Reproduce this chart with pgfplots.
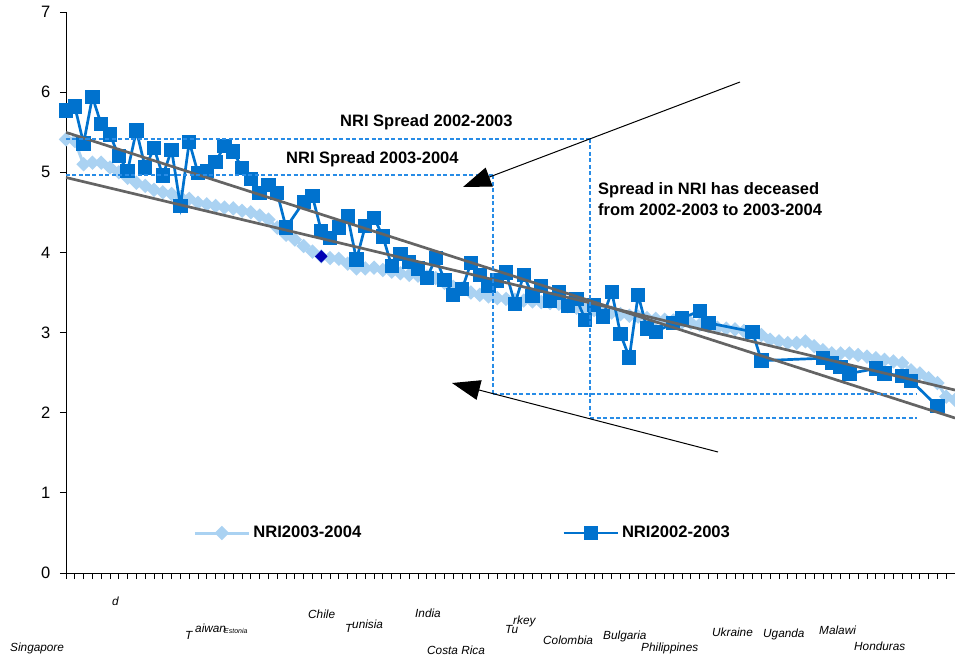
\documentclass[border=0pt]{standalone}
\usepackage{pgfplots}
\pgfplotsset{compat=1.18}
\usepackage{fontspec}
\setmainfont{Liberation Sans}
\usetikzlibrary{arrows.meta}
\definecolor{lightS}{RGB}{170,210,242}
\definecolor{darkS}{RGB}{0,114,206}
\definecolor{navyP}{RGB}{0,0,180}
\definecolor{trend}{RGB}{100,100,100}
\definecolor{dashc}{RGB}{40,140,230}

\pgfplotstableread{
i v
0 5.41
1 5.39
2 5.10
3 5.12
4 5.12
5 5.06
6 5.00
7 4.93
8 4.87
9 4.83
10 4.78
11 4.75
12 4.73
13 4.69
14 4.67
15 4.62
16 4.60
17 4.58
18 4.56
19 4.55
20 4.52
21 4.50
22 4.46
23 4.41
24 4.31
25 4.22
26 4.16
27 4.08
28 4.01
29 3.95
30 3.93
31 3.92
32 3.86
33 3.80
34 3.80
35 3.81
36 3.78
37 3.76
38 3.74
39 3.72
40 3.71
41 3.70
42 3.68
43 3.62
44 3.57
45 3.55
46 3.50
47 3.47
48 3.45
49 3.43
50 3.42
51 3.41
52 3.40
53 3.39
54 3.38
55 3.37
56 3.36
57 3.33
58 3.31
59 3.29
60 3.28
61 3.27
62 3.25
63 3.23
64 3.21
65 3.20
66 3.18
67 3.17
68 3.16
69 3.15
70 3.13
71 3.12
72 3.10
73 3.08
74 3.06
75 3.05
76 3.04
77 3.02
78 3.00
79 2.97
80 2.91
81 2.89
82 2.87
83 2.87
84 2.89
85 2.83
86 2.78
87 2.74
88 2.74
89 2.74
90 2.72
91 2.70
92 2.68
93 2.66
94 2.64
95 2.62
96 2.53
97 2.49
98 2.43
99 2.37
100 2.20
101 2.16
}\lighttab

\pgfplotstableread{
i v
0 5.77
1 5.82
2 5.36
3 5.94
4 5.60
5 5.47
6 5.20
7 5.02
8 5.52
9 5.06
10 5.30
11 4.96
12 5.28
13 4.58
14 5.38
15 4.99
16 5.02
17 5.13
18 5.33
19 5.26
20 5.05
21 4.92
22 4.74
23 4.84
24 4.74
25 4.31
27 4.63
28 4.70
29 4.27
30 4.18
31 4.31
32 4.45
33 3.91
34 4.33
35 4.43
36 4.20
37 3.83
38 3.98
39 3.88
40 3.80
41 3.68
42 3.93
43 3.66
44 3.47
45 3.54
46 3.87
47 3.72
48 3.58
49 3.65
50 3.75
51 3.36
52 3.72
53 3.46
54 3.58
55 3.40
56 3.50
57 3.33
58 3.42
59 3.16
60 3.34
61 3.20
62 3.51
63 2.98
64 2.69
65 3.47
66 3.05
67 3.01
69 3.12
70 3.18
72 3.27
73 3.12
78 3.01
79 2.65
86 2.68
87 2.62
88 2.57
89 2.49
92 2.55
93 2.49
95 2.46
96 2.40
99 2.08
}\darktab

\begin{document}
\begin{tikzpicture}
\fontsize{16.5}{19}\selectfont
\path[use as bounding box] (-66pt,-84pt) rectangle (889pt,573pt);
\begin{axis}[
  at={(0pt,0pt)}, anchor=south west,
  scale only axis, width=889pt, height=561pt,
  xmin=0, xmax=101, ymin=0, ymax=7,
  axis x line=bottom, axis y line=left,
  axis line style={-, black, line width=0.9pt},
  xtick={0,1,...,101}, xticklabels={},
  ytick={0,1,...,7},
  tick align=outside, major tick length=6pt,
  tick style={black, line width=0.9pt},
  /pgf/number format/assume math mode=true,
  every tick label/.append style={font=\fontsize{16.5}{19}\selectfont},
  yticklabel style={xshift=-4pt},
  clip mode=individual,
  legend columns=2,
  legend cell align=left,
  legend image code/.code={\draw[mark repeat=2,mark phase=2,#1] plot coordinates {(0pt,0pt) (27pt,0pt) (54pt,0pt)};},
  legend style={at={(axis description cs:0.143,0.0713)}, anchor=west,
    draw=none, fill=none, inner sep=0pt,
    font=\bfseries\fontsize{16.6}{19}\selectfont,
    nodes={inner sep=3pt},
    /tikz/every even column/.append style={column sep=198pt}},
]
\addplot[color=lightS, line width=3pt, mark=square*, mark size=3.6pt,
  mark options={rotate=45, solid, fill=lightS, draw=lightS}]
  table[x=i, y=v] {\lighttab};
\addlegendentry{NRI2003-2004}
\addplot[forget plot, only marks, mark=square*, mark size=4.2pt,
  mark options={rotate=45, fill=navyP, draw=navyP}]
  coordinates {(29,3.95)};
\addplot[color=darkS, line width=2.7pt, mark=square*, mark size=5.8pt,
  mark options={solid, fill=darkS, draw=darkS}]
  table[x=i, y=v] {\darktab};
\addlegendentry{NRI2002-2003}
\addplot[forget plot, trend, line width=2.7pt] coordinates {(0,5.498) (101,1.934)};
\addplot[forget plot, trend, line width=2.7pt] coordinates {(0,4.935) (101,2.283)};
\end{axis}

\begin{scope}[shift={(-66pt,573pt)}, x=1pt, y=-1pt]
  \begin{scope}[dashc, line width=1.3pt, dash pattern=on 4pt off 2.5pt]
    \draw (66,139) -- (590,139);
    \draw (66,175) -- (493,175);
    \draw (493,175) -- (493,394);
    \draw (590,139) -- (590,418);
    \draw (493,394) -- (916,394);
    \draw (590,418) -- (917,418);
  \end{scope}
  \draw[black, line width=1pt, -{Triangle[length=28pt,width=20pt]}] (740,82) -- (463,187);
  \draw[black, line width=1pt, -{Triangle[length=28pt,width=20pt]}] (718,452) -- (452,383);
  \begin{scope}[every node/.style={inner sep=0pt, anchor=west, font=\bfseries\fontsize{16.5}{19}\selectfont}]
    \node at (340,122) {NRI Spread 2002-2003};
    \node at (286,159) {NRI Spread 2003-2004};
    \node at (598,190) {Spread in NRI has deceased};
    \node at (598,210) {from 2002-2003 to 2003-2004};
  \end{scope}
  \begin{scope}[every node/.style={inner sep=0pt, anchor=west, font=\itshape\fontsize{11.8}{14}\selectfont}]
    \node at (10,648) {Singapore};
    \node at (112,601) {d};
    \node at (185,635) {T};
    \node at (195,628) {aiwan};
    \node[font=\itshape\fontsize{7}{8}\selectfont] at (224,631) {Estonia};
    \node at (308,614) {Chile};
    \node at (345,628) {T};
    \node at (352,624) {unisia};
    \node at (415,613) {India};
    \node at (427,650) {Costa Rica};
    \node at (505,629) {Tu};
    \node at (513,621) {rkey};
    \node at (543,640) {Colombia};
    \node at (603,636) {Bulgaria};
    \node at (641,648) {Philippines};
    \node at (712,632) {Ukraine};
    \node at (763,634) {Uganda};
    \node at (819,630) {Malawi};
    \node at (854,646) {Honduras};
  \end{scope}
\end{scope}
\end{tikzpicture}
\end{document}
